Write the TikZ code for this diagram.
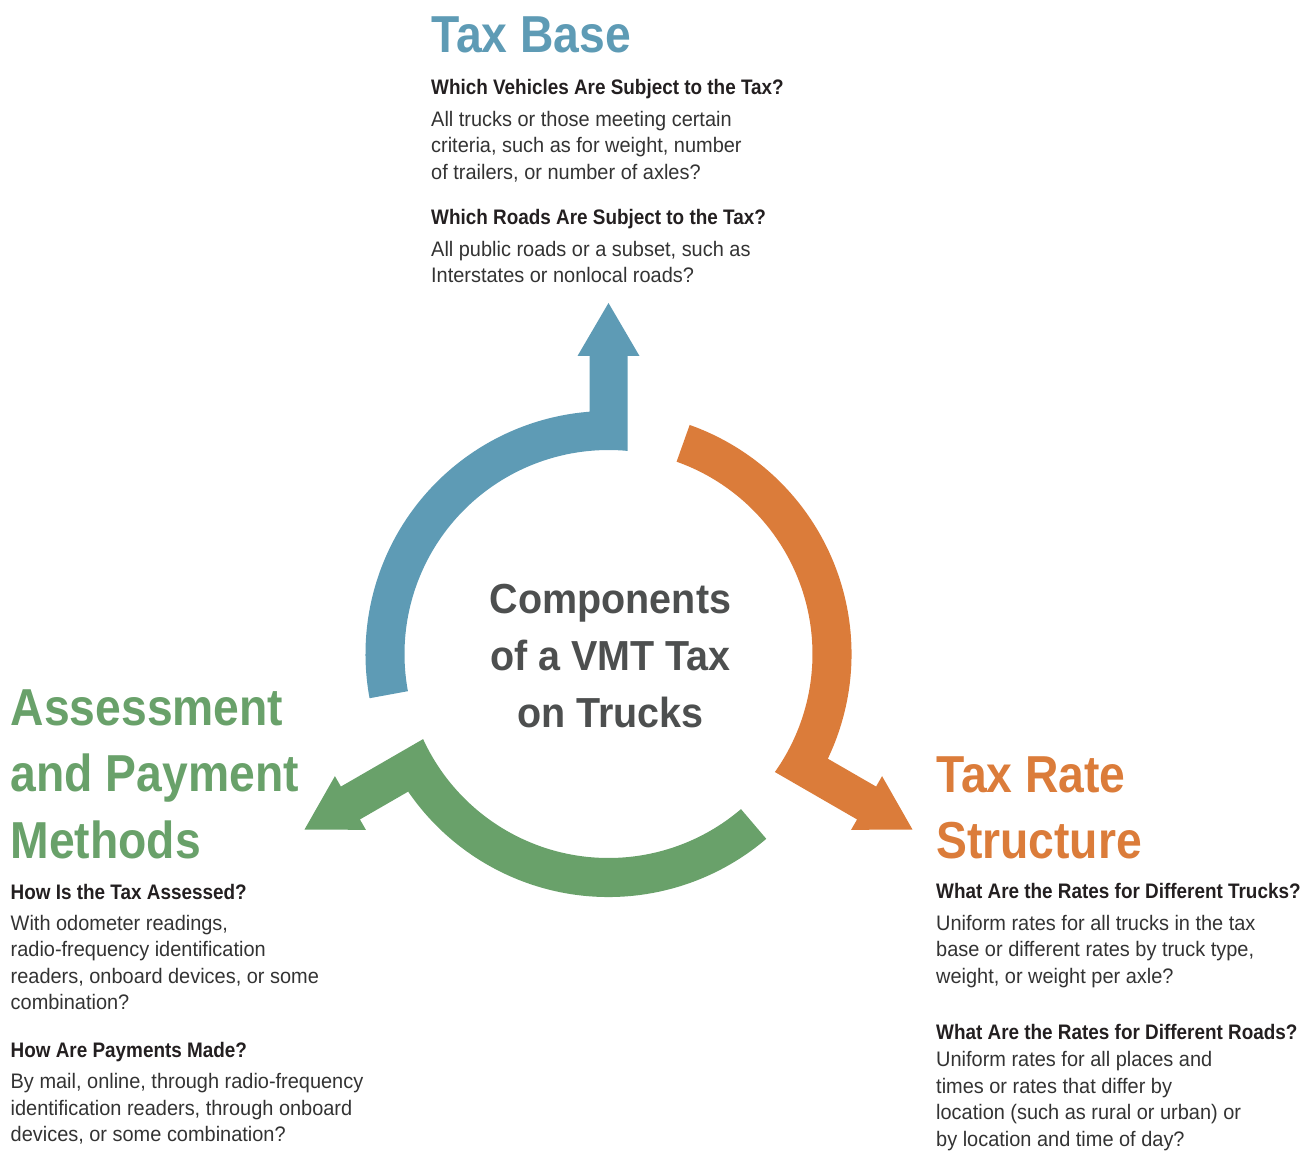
\documentclass[tikz,border=0pt]{standalone}
\usepackage{fontspec}
\setmainfont{Liberation Sans}
\newfontfamily\bodyfont{Liberation Sans}[FakeStretch=0.95]
\newfontfamily\headfont{Liberation Sans}[FakeStretch=0.90]
\newfontfamily\titlefont{Liberation Sans}[FakeStretch=0.89]
\newfontfamily\hubfont{Liberation Sans}[FakeStretch=0.94]
\definecolor{taxblue}{HTML}{5E9BB5}
\definecolor{taxorange}{HTML}{DB7C3A}
\definecolor{taxgreen}{HTML}{69A16A}
\definecolor{hubgray}{HTML}{4D4F4F}
\definecolor{headgray}{HTML}{231F20}
\definecolor{bodygray}{HTML}{333333}

\begin{document}
\begin{tikzpicture}[x=1pt,y=1pt,
  cattitle/.style={anchor=north west,inner sep=0pt,align=left,
    font=\titlefont\bfseries\fontsize{52}{66.7}\selectfont},
  question/.style={anchor=base west,inner sep=0pt,text=headgray,
    font=\headfont\bfseries\fontsize{21}{26.5}\selectfont},
  answer/.style={anchor=north west,inner sep=0pt,align=left,text=bodygray,
    font=\bodyfont\fontsize{21}{26.5}\selectfont},
  hub/.style={anchor=north,inner sep=0pt,align=center,text=hubgray,
    font=\hubfont\bfseries\fontsize{42}{57}\selectfont}]

\useasboundingbox (-608.5,-497) rectangle (704.5,654);

% the three arrows, one shape turned by 120 degrees
\foreach \Ang/\Col in {0/taxblue,-120/taxorange,120/taxgreen}
{
  \fill[\Col,rotate=\Ang]
    (19,203.1) -- (19,298) -- (31,298) -- (0,351) -- (-31,298) -- (-19,298)
    -- (-19,242.3) arc[start angle=94.48,end angle=190.5,radius=243]
    -- (190.5:204) arc[start angle=190.5,end angle=84.66,radius=204] -- cycle;
}

\node[hub] (hub) at (2,80.9) {\strut Components\\of a VMT Tax\\on Trucks};

% tax base
\node[cattitle,text=taxblue] (basetitle) at (-177.5,648.7) {\strut Tax Base};
\node[question] (vehq) at (-177.5,559) {Which Vehicles Are Subject to the Tax?};
\node[answer] (veha) at (-177.5,546.55)
  {\strut All trucks or those meeting certain\\criteria, such as for weight, number\\of trailers, or number of axles?};
\node[question] (roadq) at (-177.5,429) {Which Roads Are Subject to the Tax?};
\node[answer] (roada) at (-177.5,416.55)
  {\strut All public roads or a subset, such as\\Interstates or nonlocal roads?};

% tax rate structure
\node[cattitle,text=taxorange] (ratetitle) at (327.5,-91.3) {\strut Tax Rate\\Structure};
\node[question] (truckq) at (327.5,-244) {What Are the Rates for Different Trucks?};
\node[answer] (trucka) at (327.5,-257.45)
  {\strut Uniform rates for all trucks in the tax\\base or different rates by truck type,\\weight, or weight per axle?};
\node[question] (placeq) at (327.5,-385) {What Are the Rates for Different Roads?};
\node[answer] (placea) at (327.5,-393.95)
  {\strut Uniform rates for all places and\\times or rates that differ by\\location (such as rural or urban) or\\by location and time of day?};

% assessment and payment
\node[cattitle,text=taxgreen] (paytitle) at (-598,-24.3) {\strut Assessment\\and Payment\\Methods};
\node[question] (assessq) at (-598,-245) {How Is the Tax Assessed?};
\node[answer] (assessa) at (-598,-257.45)
  {\strut With odometer readings,\\radio-frequency identification\\readers, onboard devices, or some\\combination?};
\node[question] (payq) at (-598,-403) {How Are Payments Made?};
\node[answer] (paya) at (-598,-415.95)
  {\strut By mail, online, through radio-frequency\\identification readers, through onboard\\devices, or some combination?};
\end{tikzpicture}
\end{document}
